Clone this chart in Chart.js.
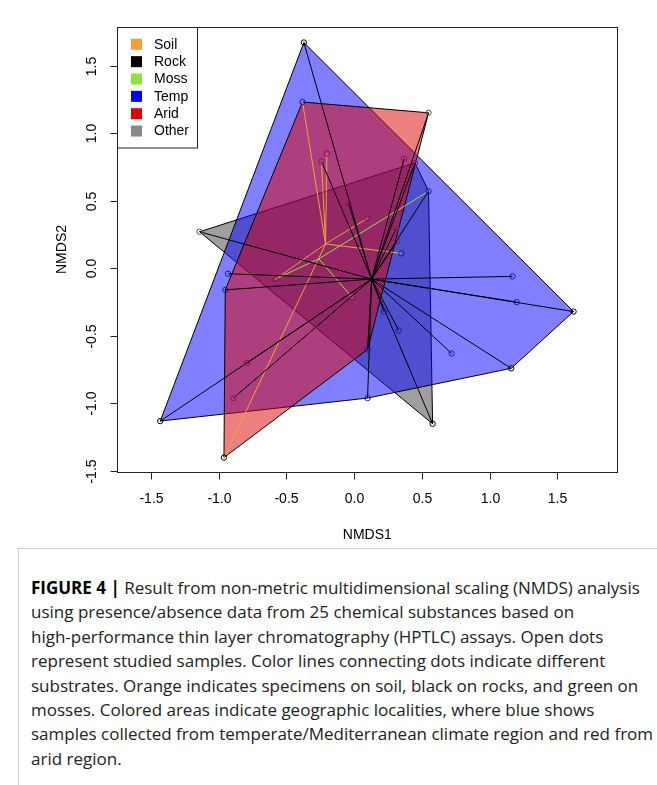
<!DOCTYPE html>
<html>
<head>
<meta charset="utf-8">
<script src="https://cdn.jsdelivr.net/npm/chart.js@4.4.1/dist/chart.umd.min.js"></script>
<style>
  body { margin: 0; background: #fff; width: 657px; height: 785px; overflow: hidden; position: relative; }
  #c { position: absolute; left: 0; top: 0; }
  #cap {
    position: absolute; left: 18px; top: 548px; width: 639px; height: 237px;
    border-top: 1px solid #ccc; border-left: 1px solid #ccc; box-sizing: border-box;
    padding: 27px 0 0 12px;
    font-family: "Open Sans", sans-serif; font-size: 17px; line-height: 24.4px; color: #222;
    white-space: nowrap;
  }
  #cap b { color: #000; }
</style>
</head>
<body>
<canvas id="c" width="657" height="545"></canvas>
<div id="cap"><b>FIGURE 4 |</b> Result from non-metric multidimensional scaling (NMDS) analysis<br>using presence/absence data from 25 chemical substances based on<br>high-performance thin layer chromatography (HPTLC) assays. Open dots<br>represent studied samples. Color lines connecting dots indicate different<br>substrates. Orange indicates specimens on soil, black on rocks, and green on<br>mosses. Colored areas indicate geographic localities, where blue shows<br>samples collected from temperate/Mediterranean climate region and red from<br>arid region.</div>
<script>
// ---- axes ----
const tickVals = [-1.5, -1.0, -0.5, 0.0, 0.5, 1.0, 1.5];
const tickLabels = ["-1.5", "-1.0", "-0.5", "0.0", "0.5", "1.0", "1.5"];
const xLim = [-1.747, 1.943];
const yLim = [-1.509, 1.787];

// ---- legend ----
const legendLabels = ["Soil", "Rock", "Moss", "Temp", "Arid", "Other"];

// ---- hulls (region areas), vertices in order ----
const otherHullX = [-1.14, 0.45, 0.55, 0.58];
const otherHullY = [0.27, 0.78, 0.57, -1.15];
const tempHullX = [-0.37, 1.62, 1.16, 0.10, -1.43];
const tempHullY = [1.67, -0.32, -0.74, -0.96, -1.13];
const aridHullX = [-0.38, 0.55, 0.10, -0.96, -0.95];
const aridHullY = [1.23, 1.15, -0.60, -1.40, -0.16];

// ---- samples (open dots) ----
const sampleX = [-0.37, -0.38, 0.55, -0.24, -0.20, 0.37, 0.45, -0.04, 0.10, 0.31, 0.32, 0.35, 0.55, -0.93, -0.95, -1.14,
  -0.58, -0.01, -1.43, -0.79, -0.89, -0.96, 0.10, 0.58, 0.10, 0.22, 0.33, 0.72, 1.16, 1.17, 1.20, 1.62];
const sampleY = [1.67, 1.23, 1.15, 0.79, 0.85, 0.81, 0.78, 0.48, 0.37, 0.29, 0.20, 0.11, 0.57, -0.04, -0.16, 0.27,
  -0.08, -0.22, -1.13, -0.70, -0.96, -1.40, -0.96, -1.15, -0.60, -0.32, -0.46, -0.63, -0.74, -0.06, -0.25, -0.32];
const sampleRing = ["k", "b", "g", "r", "r", "r", "r", "r", "r", "r", "r", "b", "b", "b", "b", "g",
  "r", "r", "k", "r", "r", "k", "b", "k", "b", "b", "b", "b", "k", "b", "b", "k"];

// ---- spiders (substrate groups) ----
const soilCenter = [-0.21, 0.18];
const soilX = [-0.38, -0.24, -0.20, 0.10, 0.35, -0.58, -0.96];
const soilY = [1.23, 0.79, 0.85, 0.37, 0.11, -0.08, -1.40];
const mossCenter = [-0.26, 0.07];
const mossX = [0.55, -0.58, -0.01];
const mossY = [0.57, -0.08, -0.22];
const rockCenter = [0.13, -0.08];
const rockX = [-0.37, 0.55, -0.24, 0.37, 0.45, -0.04, 0.31, 0.32, 0.55, -0.93, -0.95, -1.14, -1.43, -0.79, -0.89,
  0.10, 0.58, 0.10, 0.22, 0.33, 0.72, 1.16, 1.17, 1.20, 1.62];
const rockY = [1.67, 1.15, 0.79, 0.81, 0.78, 0.48, 0.29, 0.20, 0.57, -0.04, -0.16, 0.27, -1.13, -0.70, -0.96,
  -0.96, -1.15, -0.60, -0.32, -0.46, -0.63, -0.74, -0.06, -0.25, -0.32];

// ---- colours ----
const COL = {
  soil: "#eea236", rock: "#000000", moss: "#8fe23c",
  temp: "#0000ff", arid: "#e00000", other: "#888888"
};
const ringCol = { k: "#000000", b: "#1a1aa0", g: "#555555", r: "#8a1050" };
const legendCols = [COL.soil, COL.rock, COL.moss, COL.temp, COL.arid, COL.other];

function pts(xs, ys) {
  return xs.map((v, i) => ({ x: v, y: ys[i] }));
}
function closed(xs, ys) {
  const p = pts(xs, ys);
  p.push(p[0]);
  return p;
}

function hull(xs, ys, fillCol, order) {
  return {
    data: closed(xs, ys),
    showLine: true, fill: "shape",
    backgroundColor: fillCol, borderColor: "#000", borderWidth: 1,
    pointRadius: 0, order: order
  };
}

function spokes(center, xs, ys, color) {
  return xs.map((v, i) => ({
    data: [{ x: center[0], y: center[1] }, { x: v, y: ys[i] }],
    showLine: true, fill: false, borderColor: color, borderWidth: 1,
    pointRadius: 0, order: 50
  }));
}

const datasets = [
  hull(otherHullX, otherHullY, "rgba(64,64,64,0.5)", 100),
  hull(tempHullX, tempHullY, "rgba(0,0,255,0.5)", 99),
  hull(aridHullX, aridHullY, "rgba(221,0,0,0.5)", 98),
  ...spokes(rockCenter, rockX, rockY, COL.rock),
  ...spokes(soilCenter, soilX, soilY, COL.soil),
  ...spokes(mossCenter, mossX, mossY, COL.moss),
  {
    data: pts(sampleX, sampleY),
    showLine: false,
    pointRadius: 2.7, pointBorderWidth: 1,
    pointBackgroundColor: "rgba(0,0,0,0)",
    pointBorderColor: sampleRing.map(k => ringCol[k]),
    order: 0
  }
];

// R-like box, ticks, labels and legend
const rFrame = {
  id: "rFrame",
  afterDraw(chart) {
    const { ctx, chartArea: a, scales: { x, y } } = chart;
    ctx.save();
    ctx.strokeStyle = "#222";
    ctx.lineWidth = 1;
    const L = Math.round(a.left) + 0.5, R = Math.round(a.right) + 0.5;
    const T = Math.round(a.top) + 0.5, B = Math.round(a.bottom) + 0.5;
    ctx.strokeRect(L, T, R - L, B - T);

    ctx.font = '14px "Liberation Sans", Arial, sans-serif';
    ctx.fillStyle = "#000";
    ctx.textAlign = "center";
    ctx.textBaseline = "middle";
    tickVals.forEach((v, i) => {
      const px = Math.round(x.getPixelForValue(v)) + 0.5;
      ctx.beginPath(); ctx.moveTo(px, B); ctx.lineTo(px, B + 7); ctx.stroke();
      ctx.fillText(tickLabels[i], px, 499);
    });
    tickVals.forEach((v, i) => {
      const py = Math.round(y.getPixelForValue(v)) + 0.5;
      ctx.beginPath(); ctx.moveTo(L, py); ctx.lineTo(L - 7, py); ctx.stroke();
      ctx.save();
      ctx.translate(92, py);
      ctx.rotate(-Math.PI / 2);
      ctx.fillText(tickLabels[i], 0, 0);
      ctx.restore();
    });
    ctx.fillText("NMDS1", (a.left + a.right) / 2, 535);
    ctx.save();
    ctx.translate(62, (a.top + a.bottom) / 2);
    ctx.rotate(-Math.PI / 2);
    ctx.fillText("NMDS2", 0, 0);
    ctx.restore();

    // legend
    ctx.fillStyle = "#fff";
    ctx.fillRect(L, T, 197.5 - L, 148 - T);
    ctx.strokeRect(L, T, 197.5 - L, 148 - T);
    ctx.textAlign = "left";
    legendLabels.forEach((lab, i) => {
      const cy = 44.3 + 17.35 * i;
      ctx.fillStyle = legendCols[i];
      ctx.fillRect(131, cy - 5.5, 11, 11);
      ctx.fillStyle = "#000";
      ctx.fillText(lab, 154, cy + 0.5);
    });
    ctx.restore();
  }
};

new Chart(document.getElementById("c"), {
  type: "scatter",
  data: { datasets },
  options: {
    responsive: false,
    animation: false,
    layout: { padding: { left: 117.3, right: 39.7, top: 26.7, bottom: 72.7 } },
    scales: {
      x: { type: "linear", min: xLim[0], max: xLim[1], display: false },
      y: { type: "linear", min: yLim[0], max: yLim[1], display: false }
    },
    plugins: { legend: { display: false }, tooltip: { enabled: false } }
  },
  plugins: [rFrame]
});
</script>
</body>
</html>
